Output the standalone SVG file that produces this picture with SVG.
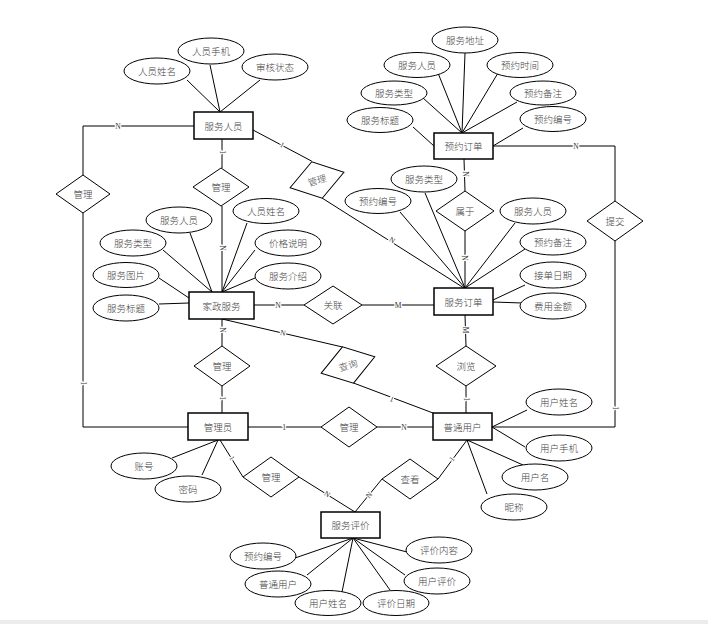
<svg xmlns="http://www.w3.org/2000/svg" width="708" height="624" viewBox="0 0 708 624">
<style>
.bg{fill:#ffffff}
.e{fill:#fff;stroke:#000;stroke-width:1.5}
.a{fill:#fff;stroke:#000;stroke-width:1}
.r{fill:#fff;stroke:#000;stroke-width:1}
.l{stroke:#000;stroke-width:1;fill:none}
.t{font-family:"Noto Sans CJK SC","Noto Sans",sans-serif;font-size:9.5px;font-weight:300;fill:#444;text-anchor:middle;dominant-baseline:central}
.c{font-family:"Liberation Serif",serif;font-size:7.5px;fill:#333;text-anchor:middle;dominant-baseline:central;stroke:#fff;stroke-width:2.5px;paint-order:stroke}
</style>
<rect class="bg" x="0" y="0" width="708" height="624"/>
<rect x="0" y="620" width="708" height="4" fill="#ececec"/>
<g id="connectors">
<line class="l" x1="187" y1="80" x2="220" y2="112"/>
<line class="l" x1="210" y1="65" x2="220" y2="112"/>
<line class="l" x1="260" y1="80" x2="220" y2="112"/>
<line class="l" x1="413" y1="127" x2="434" y2="146"/>
<line class="l" x1="423" y1="98" x2="462" y2="133"/>
<line class="l" x1="438" y1="73" x2="462" y2="133"/>
<line class="l" x1="465" y1="53" x2="462" y2="133"/>
<line class="l" x1="498" y1="73" x2="462" y2="133"/>
<line class="l" x1="517" y1="102" x2="462" y2="133"/>
<line class="l" x1="523" y1="128" x2="493" y2="146"/>
<line class="l" x1="190" y1="233" x2="212" y2="292"/>
<line class="l" x1="163" y1="250" x2="212" y2="292"/>
<line class="l" x1="247" y1="223" x2="222" y2="292"/>
<line class="l" x1="255" y1="250" x2="222" y2="292"/>
<line class="l" x1="255" y1="278" x2="222" y2="292"/>
<line class="l" x1="159" y1="278" x2="189" y2="298"/>
<line class="l" x1="159" y1="304" x2="189" y2="303"/>
<line class="l" x1="425" y1="193" x2="465" y2="288"/>
<line class="l" x1="400" y1="212" x2="465" y2="288"/>
<line class="l" x1="515" y1="223" x2="465" y2="288"/>
<line class="l" x1="525" y1="249" x2="465" y2="288"/>
<line class="l" x1="525" y1="285" x2="493" y2="300"/>
<line class="l" x1="522" y1="303" x2="493" y2="302"/>
<line class="l" x1="172" y1="458" x2="218" y2="440"/>
<line class="l" x1="202" y1="475" x2="218" y2="440"/>
<line class="l" x1="527" y1="410" x2="492" y2="427"/>
<line class="l" x1="525" y1="447" x2="492" y2="427"/>
<line class="l" x1="523" y1="465" x2="467" y2="440"/>
<line class="l" x1="487" y1="494" x2="467" y2="440"/>
<line class="l" x1="295" y1="558" x2="353" y2="538"/>
<line class="l" x1="407" y1="552" x2="353" y2="538"/>
<line class="l" x1="307" y1="575" x2="353" y2="538"/>
<line class="l" x1="405" y1="575" x2="353" y2="538"/>
<line class="l" x1="342" y1="592" x2="353" y2="538"/>
<line class="l" x1="390" y1="590" x2="353" y2="538"/>
<polyline class="l" points="194,126 83,126 83,175"/>
<polyline class="l" points="83,213 83,427 188,427"/>
<line class="l" x1="222" y1="139" x2="222" y2="168"/>
<line class="l" x1="222" y1="206" x2="222" y2="292"/>
<line class="l" x1="253" y1="130" x2="311.8" y2="161.2"/>
<line class="l" x1="322" y1="198" x2="464" y2="288"/>
<line class="l" x1="254" y1="305" x2="304" y2="305"/>
<line class="l" x1="362" y1="305" x2="434" y2="305"/>
<line class="l" x1="464" y1="159" x2="465" y2="191"/>
<line class="l" x1="465" y1="231" x2="465" y2="288"/>
<line class="l" x1="465" y1="315" x2="466" y2="346"/>
<line class="l" x1="466" y1="386" x2="466" y2="413"/>
<line class="l" x1="222" y1="319" x2="222" y2="346"/>
<line class="l" x1="222" y1="386" x2="222" y2="413"/>
<line class="l" x1="222" y1="319" x2="342.5" y2="347"/>
<line class="l" x1="353.5" y1="383" x2="433" y2="413"/>
<line class="l" x1="248" y1="427" x2="321" y2="427"/>
<line class="l" x1="377" y1="427" x2="433" y2="427"/>
<line class="l" x1="220" y1="440" x2="243" y2="477"/>
<line class="l" x1="299" y1="477" x2="355" y2="512"/>
<line class="l" x1="467" y1="440" x2="438" y2="479"/>
<line class="l" x1="382" y1="479" x2="355" y2="512"/>
<polyline class="l" points="493,146 615,146 615,201"/>
<polyline class="l" points="615,241 615,427 492,427"/>
<text class="c" x="118" y="126">N</text>
<text class="c" transform="translate(83,383) rotate(90)">1</text>
<text class="c" transform="translate(222,152) rotate(90)">1</text>
<text class="c" transform="translate(222,248) rotate(90)">N</text>
<text class="c" transform="translate(282,145) rotate(28)">1</text>
<text class="c" transform="translate(392,240) rotate(32)">N</text>
<text class="c" x="278" y="305">N</text>
<text class="c" x="398" y="305">M</text>
<text class="c" transform="translate(465,174) rotate(90)">N</text>
<text class="c" transform="translate(464,258) rotate(90)">N</text>
<text class="c" transform="translate(465,330) rotate(90)">M</text>
<text class="c" transform="translate(466,399) rotate(90)">1</text>
<text class="c" transform="translate(222,330) rotate(90)">N</text>
<text class="c" transform="translate(222,398) rotate(90)">1</text>
<text class="c" transform="translate(283,333) rotate(13)">N</text>
<text class="c" transform="translate(392,399) rotate(21)">1</text>
<text class="c" x="284" y="427">1</text>
<text class="c" x="404" y="427">N</text>
<text class="c" transform="translate(232,458) rotate(58)">1</text>
<text class="c" transform="translate(327,494) rotate(32)">N</text>
<text class="c" transform="translate(452,459) rotate(-53)">1</text>
<text class="c" transform="translate(369,495) rotate(-50)">N</text>
<text class="c" x="576" y="146">N</text>
<text class="c" transform="translate(615,408) rotate(90)">1</text>
</g>
<g id="fuwurenyuan"><rect class="e" x="194" y="112" width="59" height="27"/><text class="t" x="223.5" y="125.5">服务人员</text></g>
<g id="yuyuedingdan"><rect class="e" x="434" y="133" width="59" height="26"/><text class="t" x="463.5" y="146">预约订单</text></g>
<g id="jiazhengfuwu"><rect class="e" x="189" y="292" width="65" height="27"/><text class="t" x="221.5" y="305.5">家政服务</text></g>
<g id="fuwudingdan"><rect class="e" x="434" y="288" width="59" height="27"/><text class="t" x="463.5" y="301.5">服务订单</text></g>
<g id="guanliyuan"><rect class="e" x="188" y="413" width="60" height="27"/><text class="t" x="218" y="426.5">管理员</text></g>
<g id="putongyonghu"><rect class="e" x="433" y="413" width="59" height="27"/><text class="t" x="462.5" y="426.5">普通用户</text></g>
<g id="fuwupingjia"><rect class="e" x="321" y="512" width="59" height="26"/><text class="t" x="350.5" y="525">服务评价</text></g>
<g id="rel-guanli-left"><polygon class="r" points="56,194 83,175 110,194 83,213"/><text class="t" x="83" y="194">管理</text></g>
<g id="rel-guanli-center"><polygon class="r" points="193,187 221,168 249,187 221,206"/><text class="t" x="221" y="187">管理</text></g>
<g id="rel-guanli-rot" transform="translate(317,180) rotate(-16)"><polygon class="r" points="-28,0 0,-19 28,0 0,19"/><text class="t" x="0" y="0">管理</text></g>
<g id="rel-guanlian"><polygon class="r" points="304,305 333,286 362,305 333,324"/><text class="t" x="333" y="305">关联</text></g>
<g id="rel-shuyu"><polygon class="r" points="436,211 465,191 494,211 465,231"/><text class="t" x="465" y="211">属于</text></g>
<g id="rel-liulan"><polygon class="r" points="436,366 466,346 496,366 466,386"/><text class="t" x="466" y="366">浏览</text></g>
<g id="rel-chaxun" transform="translate(348,365) rotate(-17)"><polygon class="r" points="-28,0 0,-19 28,0 0,19"/><text class="t" x="0" y="0">查询</text></g>
<g id="rel-guanli-jz"><polygon class="r" points="194,366 222,346 250,366 222,386"/><text class="t" x="222" y="366">管理</text></g>
<g id="rel-guanli-user"><polygon class="r" points="321,427 349,407 377,427 349,447"/><text class="t" x="349" y="427">管理</text></g>
<g id="rel-guanli-eval"><polygon class="r" points="243,477 271,457 299,477 271,497"/><text class="t" x="271" y="477">管理</text></g>
<g id="rel-chakan"><polygon class="r" points="382,479 410,459 438,479 410,499"/><text class="t" x="410" y="479">查看</text></g>
<g id="rel-tijiao"><polygon class="r" points="587,221 615,201 643,221 615,241"/><text class="t" x="615" y="221">提交</text></g>
<g id="at-ry-xm"><ellipse class="a" cx="157" cy="71" rx="33" ry="13"/><text class="t" x="157" y="71">人员姓名</text></g>
<g id="at-ry-sj"><ellipse class="a" cx="211" cy="51" rx="33" ry="13"/><text class="t" x="211" y="51">人员手机</text></g>
<g id="at-ry-zt"><ellipse class="a" cx="275" cy="67" rx="33" ry="13"/><text class="t" x="275" y="67">审核状态</text></g>
<g id="at-yy-dz"><ellipse class="a" cx="465" cy="40" rx="33" ry="13"/><text class="t" x="465" y="40">服务地址</text></g>
<g id="at-yy-ry"><ellipse class="a" cx="417" cy="65" rx="33" ry="12.5"/><text class="t" x="417" y="65">服务人员</text></g>
<g id="at-yy-sj"><ellipse class="a" cx="520" cy="65" rx="33" ry="12.5"/><text class="t" x="520" y="65">预约时间</text></g>
<g id="at-yy-lx"><ellipse class="a" cx="394" cy="93" rx="33" ry="12"/><text class="t" x="394" y="93">服务类型</text></g>
<g id="at-yy-bz"><ellipse class="a" cx="543" cy="93" rx="33" ry="12"/><text class="t" x="543" y="93">预约备注</text></g>
<g id="at-yy-bt"><ellipse class="a" cx="380" cy="120" rx="33" ry="12.5"/><text class="t" x="380" y="120">服务标题</text></g>
<g id="at-yy-bh"><ellipse class="a" cx="553" cy="119" rx="33" ry="12.5"/><text class="t" x="553" y="119">预约编号</text></g>
<g id="at-jz-xm"><ellipse class="a" cx="266" cy="211" rx="33" ry="12.5"/><text class="t" x="266" y="211">人员姓名</text></g>
<g id="at-jz-ry"><ellipse class="a" cx="179" cy="220" rx="33" ry="13"/><text class="t" x="179" y="220">服务人员</text></g>
<g id="at-jz-lx"><ellipse class="a" cx="133" cy="243" rx="33" ry="13"/><text class="t" x="133" y="243">服务类型</text></g>
<g id="at-jz-jg"><ellipse class="a" cx="288" cy="243" rx="33" ry="13"/><text class="t" x="288" y="243">价格说明</text></g>
<g id="at-jz-tp"><ellipse class="a" cx="126" cy="275" rx="33" ry="12.5"/><text class="t" x="126" y="275">服务图片</text></g>
<g id="at-jz-js"><ellipse class="a" cx="288" cy="276" rx="33" ry="13"/><text class="t" x="288" y="276">服务介绍</text></g>
<g id="at-jz-bt"><ellipse class="a" cx="126" cy="308" rx="33" ry="13"/><text class="t" x="126" y="308">服务标题</text></g>
<g id="at-dd-lx"><ellipse class="a" cx="424" cy="179" rx="33" ry="13"/><text class="t" x="424" y="179">服务类型</text></g>
<g id="at-dd-bh"><ellipse class="a" cx="378" cy="201" rx="33" ry="12.5"/><text class="t" x="378" y="201">预约编号</text></g>
<g id="at-dd-ry"><ellipse class="a" cx="533" cy="211" rx="33" ry="13"/><text class="t" x="533" y="211">服务人员</text></g>
<g id="at-dd-bz"><ellipse class="a" cx="553" cy="242" rx="33" ry="13"/><text class="t" x="553" y="242">预约备注</text></g>
<g id="at-dd-rq"><ellipse class="a" cx="553" cy="275" rx="33" ry="13"/><text class="t" x="553" y="275">接单日期</text></g>
<g id="at-dd-je"><ellipse class="a" cx="553" cy="306" rx="33" ry="13"/><text class="t" x="553" y="306">费用金额</text></g>
<g id="at-gl-zh"><ellipse class="a" cx="144" cy="466" rx="33" ry="13"/><text class="t" x="144" y="466">账号</text></g>
<g id="at-gl-mm"><ellipse class="a" cx="188" cy="489" rx="33" ry="13"/><text class="t" x="188" y="489">密码</text></g>
<g id="at-yh-xm"><ellipse class="a" cx="559" cy="402" rx="33" ry="13"/><text class="t" x="559" y="402">用户姓名</text></g>
<g id="at-yh-sj"><ellipse class="a" cx="559" cy="448" rx="33" ry="13"/><text class="t" x="559" y="448">用户手机</text></g>
<g id="at-yh-ym"><ellipse class="a" cx="535" cy="477" rx="33" ry="13"/><text class="t" x="535" y="477">用户名</text></g>
<g id="at-yh-nc"><ellipse class="a" cx="514" cy="507" rx="33" ry="13"/><text class="t" x="514" y="507">昵称</text></g>
<g id="at-pj-bh"><ellipse class="a" cx="263" cy="556" rx="33" ry="13"/><text class="t" x="263" y="556">预约编号</text></g>
<g id="at-pj-nr"><ellipse class="a" cx="439" cy="550" rx="33" ry="13"/><text class="t" x="439" y="550">评价内容</text></g>
<g id="at-pj-yh"><ellipse class="a" cx="278" cy="584" rx="33" ry="13"/><text class="t" x="278" y="584">普通用户</text></g>
<g id="at-pj-pj"><ellipse class="a" cx="437" cy="581" rx="33" ry="13"/><text class="t" x="437" y="581">用户评价</text></g>
<g id="at-pj-xm"><ellipse class="a" cx="328" cy="603" rx="33" ry="12.5"/><text class="t" x="328" y="603">用户姓名</text></g>
<g id="at-pj-rq"><ellipse class="a" cx="396" cy="603" rx="33" ry="12.5"/><text class="t" x="396" y="603">评价日期</text></g>
</svg>
